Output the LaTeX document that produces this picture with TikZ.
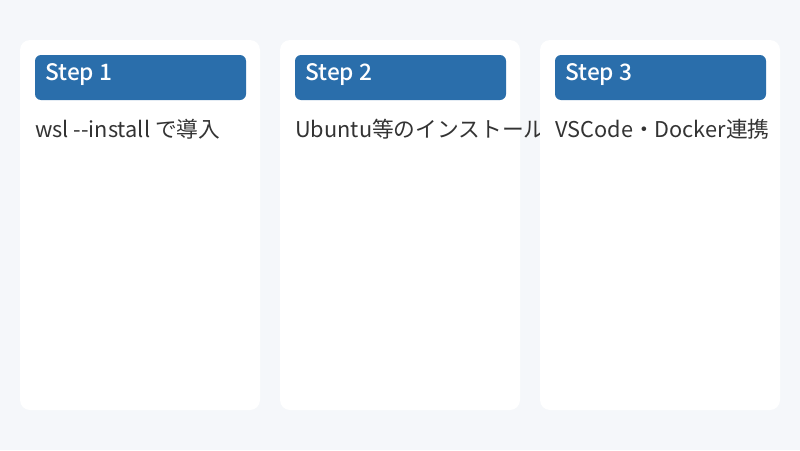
\documentclass[tikz,border=0pt]{standalone}
\usepackage{fontspec}
\setmainfont{Noto Sans CJK JP}[BoldFont={Noto Sans CJK JP Medium}]
\definecolor{bg}{HTML}{F5F7FA}
\definecolor{hdr}{HTML}{2A6EAB}
\definecolor{txt}{HTML}{333333}
\begin{document}
\begin{tikzpicture}[x=0.75pt,y=-0.75pt,
 card/.style={fill=white,rounded corners=7.5pt},
 hdrbox/.style={fill=hdr,rounded corners=4.5pt},
 steplbl/.style={anchor=west,inner sep=0pt,text=white,font=\fontsize{17}{20}\selectfont\bfseries},
 body/.style={anchor=west,inner sep=0pt,text=txt,font=\fontsize{16.3}{20}\selectfont}]
\fill[bg] (0,0) rectangle (800,450);
\useasboundingbox (0,0) rectangle (800,450);
\foreach \x/\n/\t in {20/1/wsl {-}{-}install で導入, 280/2/Ubuntu等のインストール, 540/3/VSCode・Docker連携}{
  \fill[card] (\x,40) rectangle ++(240,370);
  \fill[hdrbox] (\x+15,55) rectangle ++(211,45);
  \node[steplbl] (s\n) at (\x+25,75) {Step \n};
  \node[body] (b\n) at (\x+15,129) {\t};
}
\end{tikzpicture}
\end{document}
